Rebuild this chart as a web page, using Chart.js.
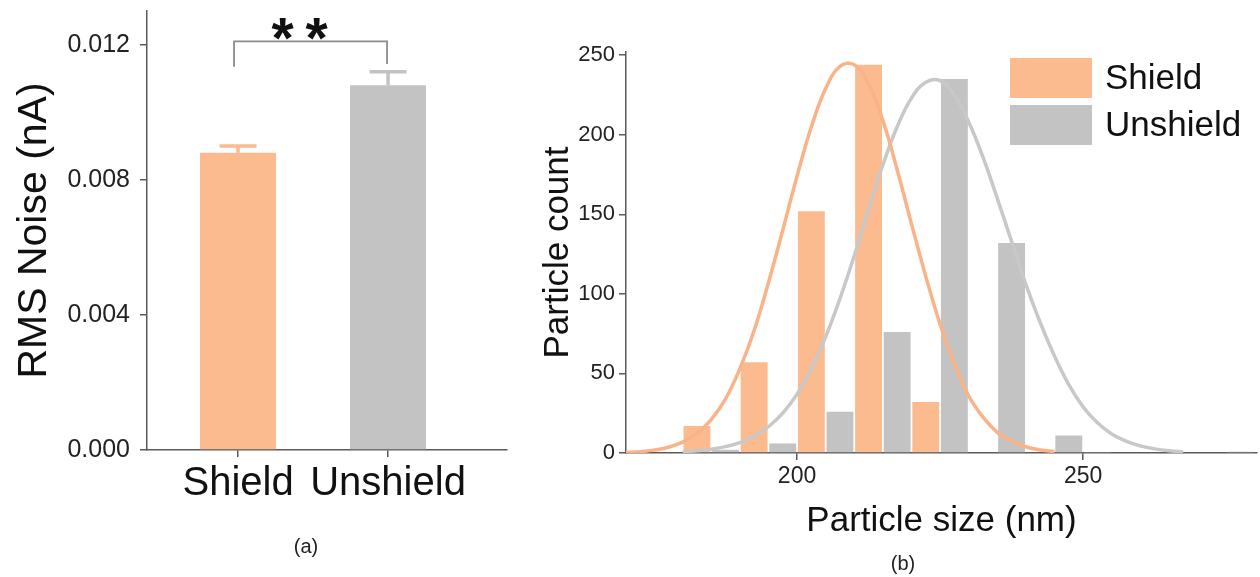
<!DOCTYPE html>
<html><head><meta charset="utf-8">
<script src="https://cdn.jsdelivr.net/npm/chart.js@4.4.1/dist/chart.umd.min.js"></script>
<style>
html,body{margin:0;padding:0;background:#fff;width:1260px;height:577px;overflow:hidden;font-family:"Liberation Sans",Arial,sans-serif;}
#wa{position:absolute;left:0;top:0;width:520px;height:577px;}
#wb{position:absolute;left:520px;top:0;width:740px;height:577px;}
.cap{position:absolute;font-size:20px;color:#222;transform:translate(-50%,-50%);white-space:nowrap;}
</style></head><body>
<div id="wa"><canvas id="ca"></canvas></div>
<div id="wb"><canvas id="cb"></canvas></div>
<div class="cap" style="left:306px;top:546px">(a)</div>
<div class="cap" style="left:903px;top:563px">(b)</div>
<script>
// ---------- Panel (a) data ----------
const categories = ['Shield', 'Unshield'];
const noiseMean = [0.0088, 0.0108];
const noiseErr = [0.0002, 0.0004];
const noiseTicks = [0, 0.004, 0.008, 0.012];
const sigLabel = '**';
const sigBracket = [0.0121, 0.01135, 0.01143]; // bracket level, left leg end, right leg end

// ---------- Panel (b) data ----------
const binCenters = [185, 195, 205, 215, 225, 235, 245, 255, 265, 275];
const shieldCounts = [17, 57, 152, 244, 32, 0, 0, 0.6, 0, 0];
const unshieldCounts = [2, 6, 26, 76, 235, 132, 11, 0, 0, 0.8];
const sizeTicks = [200, 250];
const countTicks = [0, 50, 100, 150, 200, 250];
const shieldFitX = [170, 172.5, 175, 177.5, 180, 182.5, 185, 187.5, 190, 192.5, 195, 197.5, 200, 202.5, 205, 207.5, 210, 212.5, 215, 217.5, 220, 222.5, 225, 227.5, 230, 232.5, 235, 237.5, 240, 242.5, 245];
const shieldFitY = [0.4, 0.8, 1.8, 3.6, 6.8, 12.3, 21, 34, 53, 77, 107, 140, 174, 205, 229, 243, 244, 232, 209, 178, 144, 111, 81, 56, 36, 22.5, 13, 7.4, 3.9, 1.9, 0.9];
const unshieldFitX = [180, 182.5, 185, 187.5, 190, 192.5, 195, 197.5, 200, 202.5, 205, 207.5, 210, 212.5, 215, 217.5, 220, 222.5, 225, 227.5, 230, 232.5, 235, 237.5, 240, 242.5, 245, 247.5, 250, 252.5, 255, 257.5, 260, 262.5, 265, 267.5];
const unshieldFitY = [0.8, 1.4, 2.4, 4, 6.5, 10.5, 16.5, 25, 37, 53, 73, 97, 124, 153, 181, 205, 223, 233, 234, 225, 208, 186, 160, 133, 106, 82, 61, 43, 29, 19, 12, 7.5, 4.5, 2.6, 1.4, 0.7];

// ---------- Styles ----------
const ORANGE = 'rgb(252,187,143)';
const GRAY = 'rgb(195,195,195)';
const ORANGE_LINE = 'rgb(250,178,135)';
const GRAY_LINE = 'rgb(200,200,200)';
const AXIS = '#5a5a5a';
const FONT = '"Liberation Sans", Arial, sans-serif';

function noPad(s) { s.paddingTop = 0; s.paddingBottom = 0; s.paddingLeft = 0; s.paddingRight = 0; }

// ---------- Panel (a) ----------
const errorBarPlugin = {
  id: 'errorBars',
  afterDatasetsDraw(chart) {
    const meta = chart.getDatasetMeta(0);
    const y = chart.scales.y;
    const ctx = chart.ctx;
    meta.data.forEach((bar, i) => {
      const top = y.getPixelForValue(noiseMean[i] + noiseErr[i]);
      ctx.save();
      ctx.strokeStyle = chart.data.datasets[0].backgroundColor[i];
      ctx.lineWidth = 3.5;
      ctx.beginPath();
      ctx.moveTo(bar.x, bar.y);
      ctx.lineTo(bar.x, top);
      ctx.moveTo(bar.x - 18.5, top);
      ctx.lineTo(bar.x + 18.5, top);
      ctx.stroke();
      ctx.restore();
    });
  }
};
const bracketPlugin = {
  id: 'sigBracket',
  afterDraw(chart) {
    const xs = chart.scales.x, y = chart.scales.y, ctx = chart.ctx;
    const x1 = xs.getPixelForValue(1) - 4, x2 = xs.getPixelForValue(2) - 1;
    const yb = y.getPixelForValue(sigBracket[0]);
    ctx.save();
    ctx.strokeStyle = '#8c8c8c';
    ctx.lineWidth = 1.8;
    ctx.beginPath();
    ctx.moveTo(x1, y.getPixelForValue(sigBracket[1]));
    ctx.lineTo(x1, yb);
    ctx.lineTo(x2, yb);
    ctx.lineTo(x2, y.getPixelForValue(sigBracket[2]));
    ctx.stroke();
    ctx.fillStyle = '#111';
    ctx.font = 'bold 57px ' + FONT;
    ctx.textAlign = 'center';
    ctx.textBaseline = 'alphabetic';
    const mid = (x1 + x2) / 2 - 11;
    const chars = sigLabel.split('');
    const gap = 34;
    chars.forEach((c, i) => {
      ctx.fillText(c, mid + (i - (chars.length - 1) / 2) * gap, yb + 17);
    });
    ctx.restore();
  }
};

new Chart(document.getElementById('ca'), {
  type: 'bar',
  data: {
    datasets: [{
      label: 'RMS Noise',
      data: categories.map((c, i) => ({ x: i + 1, y: noiseMean[i] })),
      backgroundColor: [ORANGE, GRAY],
      borderWidth: 0,
      barPercentage: 0.507,
      categoryPercentage: 1
    }]
  },
  options: {
    responsive: true, maintainAspectRatio: false, animation: false,
    layout: { padding: { top: 11, right: 13, left: 0, bottom: 0 } },
    plugins: { legend: { display: false }, tooltip: { enabled: false } },
    scales: {
      x: {
        type: 'linear', min: 0.393, max: 2.793, offset: false,
        afterFit(s) { s.height = 127; noPad(s); },
        afterBuildTicks(s) { s.ticks = categories.map((c, i) => ({ value: i + 1 })); },
        ticks: { autoSkip: false, maxRotation: 0, color: '#111', padding: 3,
          font: { family: FONT, size: 40 },
          callback: (v) => categories[Math.round(v) - 1] },
        grid: { offset: false, drawOnChartArea: false, drawTicks: true, tickLength: 7, color: AXIS, lineWidth: 1.5 },
        border: { display: true, color: AXIS, width: 1.5 }
      },
      y: {
        min: 0, max: 0.013,
        afterFit(s) { s.width = 147; noPad(s); },
        afterBuildTicks(s) { s.ticks = noiseTicks.map(v => ({ value: v })); },
        ticks: { color: '#222', padding: 10, font: { family: FONT, size: 25 },
          callback: (v) => v.toFixed(3) },
        grid: { offset: false, drawOnChartArea: false, drawTicks: true, tickLength: 7, color: AXIS, lineWidth: 1.5 },
        border: { display: true, color: AXIS, width: 1.5 },
        title: { display: true, text: 'RMS Noise (nA)', color: '#111',
          font: { family: FONT, size: 41 }, padding: { top: 10, bottom: 0 } }
      }
    }
  },
  plugins: [errorBarPlugin, bracketPlugin]
});

// ---------- Panel (b) ----------
const legendPlugin = {
  id: 'boxLegend',
  afterDraw(chart) {
    const ctx = chart.ctx;
    const bars = chart.data.datasets.filter(d => d.type === 'bar');
    const x0 = chart.chartArea.right - 247, y0 = 58;
    ctx.save();
    bars.forEach((d, i) => {
      ctx.fillStyle = d.backgroundColor;
      ctx.fillRect(x0, y0 + i * 47, 82, 40);
      ctx.fillStyle = '#111';
      ctx.font = '35px ' + FONT;
      ctx.textAlign = 'left';
      ctx.textBaseline = 'middle';
      ctx.fillText(d.label, x0 + 95, y0 + i * 47 + 21);
    });
    ctx.restore();
  }
};

new Chart(document.getElementById('cb'), {
  type: 'bar',
  data: {
    datasets: [
      { type: 'line', label: 'Shield fit', order: 0,
        data: shieldFitX.map((x, i) => ({ x, y: shieldFitY[i] })),
        borderColor: ORANGE_LINE, borderWidth: 3.5, pointRadius: 0, tension: 0.4, fill: false },
      { type: 'line', label: 'Unshield fit', order: 0,
        data: unshieldFitX.map((x, i) => ({ x, y: unshieldFitY[i] })),
        borderColor: GRAY_LINE, borderWidth: 3.5, pointRadius: 0, tension: 0.4, fill: false },
      { type: 'bar', label: 'Shield', order: 1,
        data: binCenters.map((x, i) => ({ x, y: shieldCounts[i] })),
        backgroundColor: ORANGE, borderWidth: 0, barPercentage: 0.94, categoryPercentage: 1 },
      { type: 'bar', label: 'Unshield', order: 1,
        data: binCenters.map((x, i) => ({ x, y: unshieldCounts[i] })),
        backgroundColor: GRAY, borderWidth: 0, barPercentage: 0.94, categoryPercentage: 1 }
    ]
  },
  options: {
    responsive: true, maintainAspectRatio: false, animation: false,
    layout: { padding: { top: 52, right: 3, left: 0, bottom: 0 } },
    plugins: { legend: { display: false }, tooltip: { enabled: false } },
    scales: {
      x: {
        type: 'linear', min: 170.1, max: 280.4, offset: false,
        afterFit(s) { s.height = 124; noPad(s); },
        afterBuildTicks(s) { s.ticks = sizeTicks.map(v => ({ value: v })); },
        ticks: { autoSkip: false, maxRotation: 0, color: '#222', padding: 3,
          font: { family: FONT, size: 23 } },
        grid: { offset: false, drawOnChartArea: false, drawTicks: true, tickLength: 7, color: AXIS, lineWidth: 1.5 },
        border: { display: true, color: AXIS, width: 1.5 },
        title: { display: true, text: 'Particle size (nm)', color: '#111',
          font: { family: FONT, size: 35 }, padding: { top: 0, bottom: 35 } }
      },
      y: {
        min: 0, max: 252,
        afterFit(s) { s.width = 106; noPad(s); },
        afterBuildTicks(s) { s.ticks = countTicks.map(v => ({ value: v })); },
        ticks: { color: '#222', padding: 4, font: { family: FONT, size: 22 } },
        grid: { offset: false, drawOnChartArea: false, drawTicks: true, tickLength: 7, color: AXIS, lineWidth: 1.5 },
        border: { display: true, color: AXIS, width: 1.5 },
        title: { display: true, text: 'Particle count', color: '#111',
          font: { family: FONT, size: 35 }, padding: { top: 17, bottom: 0 } }
      }
    }
  },
  plugins: [legendPlugin]
});
</script>
</body></html>
